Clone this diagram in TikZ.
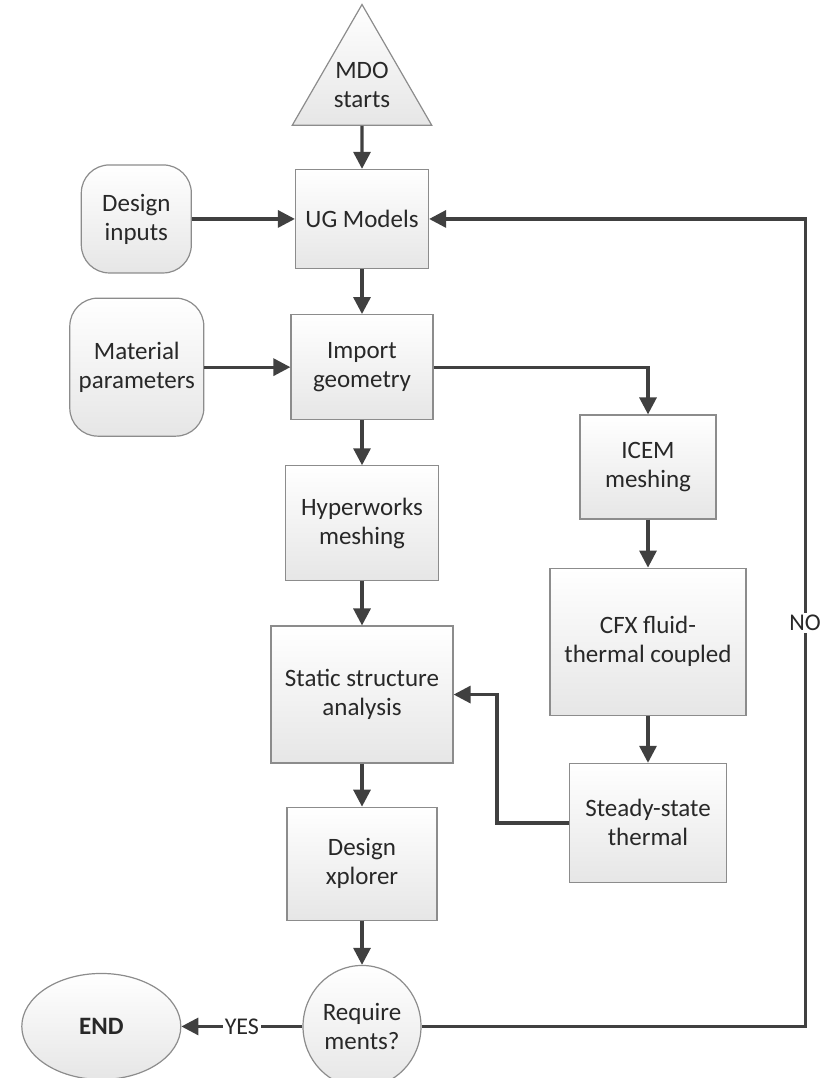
\documentclass[tikz,border=0pt]{standalone}
\usepackage{fontspec}
\setmainfont{Carlito}
\usepackage{xcolor}
\usetikzlibrary{positioning}
\usetikzlibrary{arrows.meta}
\usetikzlibrary{shapes.geometric}
\definecolor{linecolor}{RGB}{64,64,64}
\definecolor{edgecolor}{RGB}{140,140,140}
\definecolor{shadecolor}{RGB}{230,230,230}
\definecolor{textcolor}{RGB}{40,40,40}

\begin{document}
\begin{tikzpicture}[
    x=1pt, y=-1pt,
    box/.style={rectangle, draw=edgecolor, line width=1.2pt, top color=white, bottom color=shadecolor, text=textcolor, align=center, inner sep=2pt, font=\fontsize{25}{29}\selectfont},
    inbox/.style={box, rounded corners=28pt},
    startnode/.style={box, regular polygon, regular polygon sides=3, minimum size=161pt, inner sep=0pt},
    decision/.style={box, ellipse, inner sep=0pt},
    arrow/.style={-{Triangle[length=17pt, width=17pt]}, line width=3.2pt, draw=linecolor},
    flowlabel/.style={fill=white, inner sep=2pt, text=textcolor, font=\fontsize{24}{28}\selectfont}
]
\useasboundingbox (0,0) rectangle (822,1078);

% Start
\node[startnode] (mdo) at (362,85) {MDO\\starts};

% Main column
\node[box, below=43pt of mdo, minimum width=133pt, minimum height=99pt] (ug) {UG Models};
\node[box, below=45pt of ug, minimum width=142pt, minimum height=105pt] (import) {Import\\geometry};
\node[box, below=45pt of import, minimum width=153pt, minimum height=115pt] (hyper) {Hyperworks\\meshing};
\node[box, below=44pt of hyper, minimum width=182pt, minimum height=137pt] (static) {Static structure\\analysis};
\node[box, below=43pt of static, minimum width=150pt, minimum height=113pt] (xplorer) {Design\\xplorer};
\node[decision, below=44pt of xplorer, minimum width=118pt, minimum height=122pt] (req) {Require\\ments?};

% Inputs
\node[inbox, left=103pt of ug, minimum width=110pt, minimum height=108pt] (design) {Design\\inputs};
\node[inbox, left=86pt of import, minimum width=134pt, minimum height=138pt] (material) {Material\\parameters};

% End
\node[decision, left=121pt of req, minimum width=159pt, minimum height=106pt, font=\fontsize{25}{29}\selectfont\bfseries] (finish) {END};

% Fluid-thermal branch
\node[box, minimum width=136pt, minimum height=104pt] (icem) at (648,467) {ICEM\\meshing};
\node[box, below=48pt of icem, minimum width=196pt, minimum height=147pt] (cfx) {CFX fluid-\\thermal coupled};
\node[box, below=47pt of cfx, minimum width=157pt, minimum height=119pt] (steady) {Steady-state\\thermal};

\coordinate[right=376pt of ug.east] (nocorner);

% Arrows
\draw[arrow] (mdo) -- (ug);
\draw[arrow] (design) -- (ug);
\draw[arrow] (ug) -- (import);
\draw[arrow] (material) -- (import);
\draw[arrow] (import) -- (hyper);
\draw[arrow] (hyper) -- (static);
\draw[arrow] (static) -- (xplorer);
\draw[arrow] (xplorer) -- (req);
\draw[arrow] (import.east) -| (icem.north);
\draw[arrow] (icem) -- (cfx);
\draw[arrow] (cfx) -- (steady);
\draw[arrow] (steady.west) -- ++(-72pt,0) |- (static.east);
\draw[arrow] (req) -- node[flowlabel] {YES} (finish);
\draw[arrow] (req.east) -| node[flowlabel, pos=0.75] {NO} (nocorner) -- (ug.east);

\end{tikzpicture}
\end{document}
